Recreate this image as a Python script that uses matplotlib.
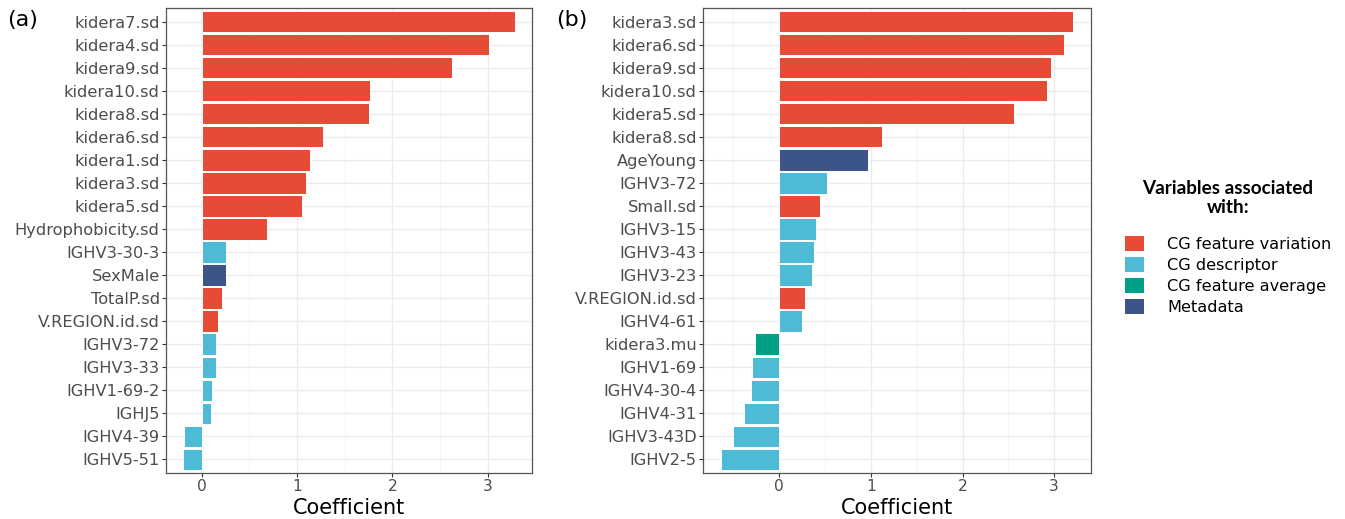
import numpy as np
import matplotlib
matplotlib.use("Agg")
import matplotlib.pyplot as plt
from matplotlib.patches import Patch
from matplotlib.ticker import MultipleLocator

# category colours (npg-like)
COLORS = {
    "var": "#E64B35",   # CG feature variation
    "desc": "#4DBBD5",  # CG descriptor
    "avg": "#00A087",   # CG feature average
    "meta": "#3C5488",  # Metadata
}
LEGEND_LABELS = {
    "var": "CG feature variation",
    "desc": "CG descriptor",
    "avg": "CG feature average",
    "meta": "Metadata",
}

# panel (a)
a_names = ["kidera7.sd", "kidera4.sd", "kidera9.sd", "kidera10.sd", "kidera8.sd",
           "kidera6.sd", "kidera1.sd", "kidera3.sd", "kidera5.sd", "Hydrophobicity.sd",
           "IGHV3-30-3", "SexMale", "TotalP.sd", "V.REGION.id.sd", "IGHV3-72",
           "IGHV3-33", "IGHV1-69-2", "IGHJ5", "IGHV4-39", "IGHV5-51"]
a_values = [3.29, 3.01, 2.63, 1.77, 1.75, 1.27, 1.14, 1.09, 1.05, 0.68,
            0.25, 0.25, 0.21, 0.17, 0.155, 0.15, 0.105, 0.10, -0.19, -0.20]
a_groups = ["var"] * 10 + ["desc", "meta", "var", "var"] + ["desc"] * 6

# panel (b)
b_names = ["kidera3.sd", "kidera6.sd", "kidera9.sd", "kidera10.sd", "kidera5.sd",
           "kidera8.sd", "AgeYoung", "IGHV3-72", "Small.sd", "IGHV3-15",
           "IGHV3-43", "IGHV3-23", "V.REGION.id.sd", "IGHV4-61", "kidera3.mu",
           "IGHV1-69", "IGHV4-30-4", "IGHV4-31", "IGHV3-43D", "IGHV2-5"]
b_values = [3.21, 3.11, 2.97, 2.92, 2.56, 1.12, 0.97, 0.52, 0.44, 0.40,
            0.38, 0.355, 0.28, 0.25, -0.27, -0.30, -0.31, -0.385, -0.50, -0.64]
b_groups = ["var"] * 6 + ["meta", "desc", "var", "desc", "desc", "desc", "var",
                          "desc", "avg"] + ["desc"] * 5

W, H = 1345, 519
fig = plt.figure(figsize=(W / 100, H / 100), dpi=100)


def draw_panel(rect, names, values, groups, tag, tagx):
    ax = fig.add_axes([rect[0] / W, 1 - rect[3] / H,
                       (rect[2] - rect[0]) / W, (rect[3] - rect[1]) / H])
    y = np.arange(len(names))
    ax.barh(y, values, height=0.92, color=[COLORS[g] for g in groups],
            edgecolor="white", linewidth=0.7, zorder=3)
    lo, hi = min(values + [0]), max(values + [0])
    pad = (hi - lo) * 0.05
    ax.set_xlim(lo - pad, hi + pad)
    ax.set_ylim(len(names) - 0.4, -0.6)
    ax.set_yticks(y)
    ax.set_yticklabels(names)
    ax.xaxis.set_major_locator(MultipleLocator(1))
    ax.xaxis.set_minor_locator(MultipleLocator(0.5))
    ax.grid(True, which="major", color="#EBEBEB", linewidth=1.0, zorder=0)
    ax.grid(True, which="minor", axis="x", color="#F2F2F2", linewidth=0.6, zorder=0)
    ax.tick_params(axis="both", which="major", labelcolor="#4D4D4D",
                   color="#333333", length=3, width=0.8, pad=1.5)
    ax.tick_params(axis="y", labelsize=11.7)
    ax.tick_params(axis="x", labelsize=11.2)
    ax.tick_params(axis="x", which="minor", length=0)
    for s in ax.spines.values():
        s.set_color("#555555")
        s.set_linewidth(0.9)
    ax.set_xlabel("Coefficient", fontsize=15, labelpad=3)
    ax.set_axisbelow(True)
    fig.text(tagx / W, 1 - 20 / H, tag, fontsize=16, va="center", ha="left")
    return ax


draw_panel((166, 8, 532, 473), a_names, a_values, a_groups, "(a)", 7)
draw_panel((703, 8, 1091, 473), b_names, b_values, b_groups, "(b)", 556)

fig.text(1228 / W, 1 - 198 / H, "Variables associated\nwith:", ha="center",
         va="center", multialignment="center", fontsize=13.6, fontweight="bold",
         family="Lato", linespacing=1.2)

handles = [Patch(facecolor=COLORS[k], edgecolor="none") for k in LEGEND_LABELS]
fig.legend(handles, list(LEGEND_LABELS.values()), loc="upper left",
           bbox_to_anchor=(1125 / W, 1 - 236 / H), frameon=False, fontsize=11.6,
           handlelength=1.15, handleheight=1.05, labelspacing=0.32,
           handletextpad=1.45, borderpad=0, borderaxespad=0)

fig.savefig("out.png", dpi=100)
